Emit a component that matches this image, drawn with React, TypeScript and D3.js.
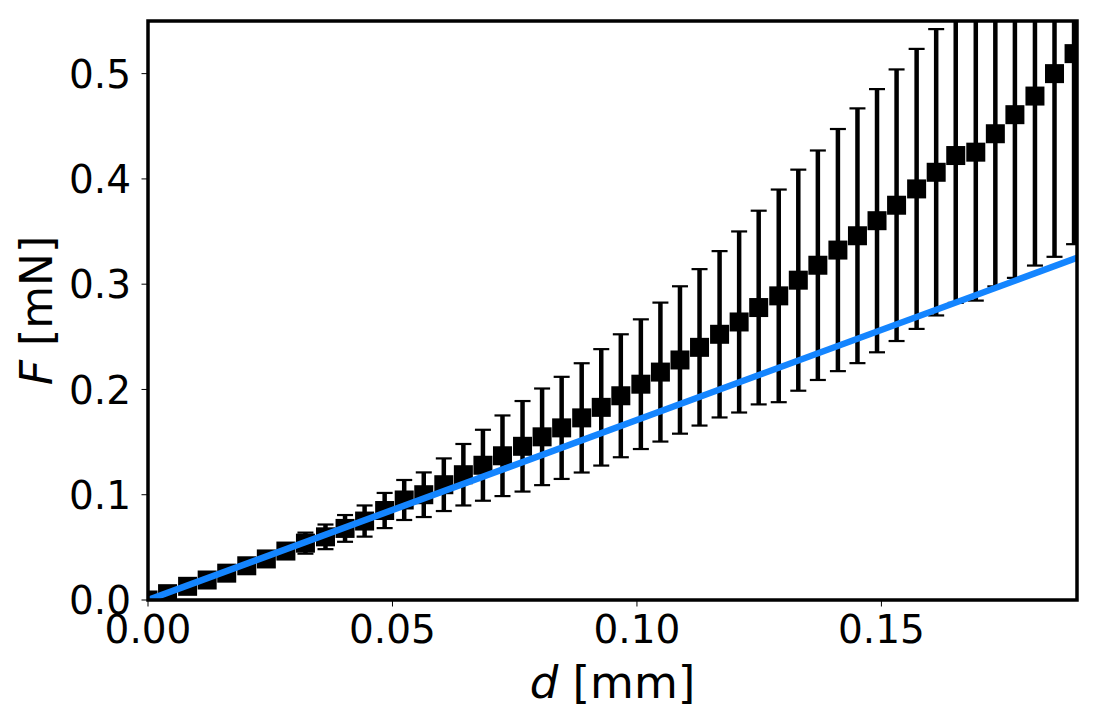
import * as d3 from "d3";

// Canvas size and plot box (pixels)
const WIDTH = 1101;
const HEIGHT = 723;
const MARGIN = { top: 21, right: 24, bottom: 123, left: 148 };

// measured displacement d [mm]
const dValues = [
  0, 0.004, 0.0081, 0.0121, 0.0161, 0.0202, 0.0242, 0.0282, 0.0322, 0.0363,
  0.0403, 0.0443, 0.0484, 0.0524, 0.0564, 0.0605, 0.0645, 0.0685, 0.0725, 0.0766,
  0.0806, 0.0846, 0.0887, 0.0927, 0.0967, 0.1008, 0.1048, 0.1088, 0.1128, 0.1169,
  0.1209, 0.1249, 0.129, 0.133, 0.137, 0.1411, 0.1451, 0.1491, 0.1531, 0.1572,
  0.1612, 0.1652, 0.1693, 0.1733, 0.1773, 0.1814, 0.1854, 0.1894,
];

// mean force F [mN]
const fValues = [
  0, 0.006, 0.013, 0.019, 0.0255, 0.0325, 0.039, 0.0465, 0.054, 0.06,
  0.068, 0.075, 0.085, 0.095, 0.1, 0.1095, 0.119, 0.128, 0.137, 0.146,
  0.155, 0.1635, 0.173, 0.183, 0.194, 0.205, 0.2165, 0.228, 0.24, 0.2524,
  0.2641, 0.2778, 0.2889, 0.3038, 0.318, 0.3324, 0.346, 0.3603, 0.375, 0.3905,
  0.4063, 0.4222, 0.4254, 0.4429, 0.461, 0.4787, 0.5, 0.519,
];

// standard deviation of F [mN]
const fErrors = [
  0, 0.001, 0.002, 0.003, 0.003, 0.004, 0.005, 0.006, 0.01, 0.0117,
  0.0127, 0.0148, 0.0167, 0.019, 0.0212, 0.025, 0.0292, 0.0337, 0.0383, 0.043,
  0.0459, 0.0485, 0.0519, 0.0553, 0.0584, 0.0616, 0.066, 0.07, 0.0743, 0.079,
  0.086, 0.092, 0.101, 0.105, 0.109, 0.115, 0.121, 0.125, 0.129, 0.133,
  0.136, 0.14, 0.141, 0.145, 0.155, 0.161, 0.174, 0.181,
];

// linear model
const fitD = [0, 0.19];
const fitF = [0, 0.325];

const xTicks = [0, 0.05, 0.1, 0.15];
const yTicks = [0, 0.1, 0.2, 0.3, 0.4, 0.5];

const FONT = "'DejaVu Sans', sans-serif";
const TICK_LENGTH = 5;
const MARKER = 19;
const CAP = 16;

export default function App() {
  const x0 = MARGIN.left;
  const x1 = WIDTH - MARGIN.right;
  const y0 = HEIGHT - MARGIN.bottom;
  const y1 = MARGIN.top;

  const xScale = d3.scaleLinear().domain([0, 0.19]).range([x0, x1]);
  const yScale = d3.scaleLinear().domain([0, 0.55]).range([y0, y1]);

  const points = dValues.map((d, i) => ({ d, f: fValues[i], e: fErrors[i] }));

  const fitLine = d3
    .line<number>()
    .x((d) => xScale(d))
    .y((_, i) => yScale(fitF[i]))(fitD);

  return (
    <svg
      width={WIDTH}
      height={HEIGHT}
      style={{ position: "absolute", left: 0, top: 0, background: "white" }}
    >
      <defs>
        <clipPath id="plot-area">
          <rect x={x0} y={y1} width={x1 - x0} height={y0 - y1} />
        </clipPath>
      </defs>

      <g clipPath="url(#plot-area)">
        {/* error bars */}
        {points.map((p, i) => {
          const cx = xScale(p.d);
          const top = yScale(p.f + p.e);
          const bot = yScale(p.f - p.e);
          return (
            <g key={"e" + i} stroke="black">
              <line x1={cx} x2={cx} y1={top} y2={bot} strokeWidth={4.5} />
              <line x1={cx - CAP / 2} x2={cx + CAP / 2} y1={top} y2={top} strokeWidth={2.2} />
              <line x1={cx - CAP / 2} x2={cx + CAP / 2} y1={bot} y2={bot} strokeWidth={2.2} />
            </g>
          );
        })}
        {/* square markers */}
        {points.map((p, i) => (
          <rect
            key={"m" + i}
            x={xScale(p.d) - MARKER / 2}
            y={yScale(p.f) - MARKER / 2}
            width={MARKER}
            height={MARKER}
            fill="black"
          />
        ))}
        {/* model */}
        <path d={fitLine || undefined} fill="none" stroke="#1485ff" strokeWidth={6.5} />
      </g>

      {/* frame */}
      <rect
        x={x0}
        y={y1}
        width={x1 - x0}
        height={y0 - y1}
        fill="none"
        stroke="black"
        strokeWidth={3.5}
      />

      {/* x axis */}
      {xTicks.map((t) => (
        <g key={"x" + t} transform={`translate(${xScale(t)},${y0})`}>
          <line y1={0} y2={TICK_LENGTH + 1.5} stroke="black" strokeWidth={1} />
          <text
            y={43}
            textAnchor="middle"
            fontFamily={FONT}
            fontSize={39}
            fill="black"
          >
            {t.toFixed(2)}
          </text>
        </g>
      ))}

      {/* y axis */}
      {yTicks.map((t) => (
        <g key={"y" + t} transform={`translate(${x0},${yScale(t)})`}>
          <line x1={0} x2={-TICK_LENGTH - 1.5} stroke="black" strokeWidth={1} />
          <text
            x={-17}
            dy="0.36em"
            textAnchor="end"
            fontFamily={FONT}
            fontSize={39}
            fill="black"
          >
            {t.toFixed(1)}
          </text>
        </g>
      ))}

      {/* axis titles */}
      <text
        x={(x0 + x1) / 2}
        y={698}
        textAnchor="middle"
        fontFamily={FONT}
        fontSize={45}
        fill="black"
      >
        <tspan fontStyle="italic">d</tspan> [mm]
      </text>
      <text
        transform={`translate(52,${(y0 + y1) / 2}) rotate(-90)`}
        textAnchor="middle"
        fontFamily={FONT}
        fontSize={44}
        fill="black"
      >
        <tspan fontStyle="italic">F</tspan> [mN]
      </text>
    </svg>
  );
}
